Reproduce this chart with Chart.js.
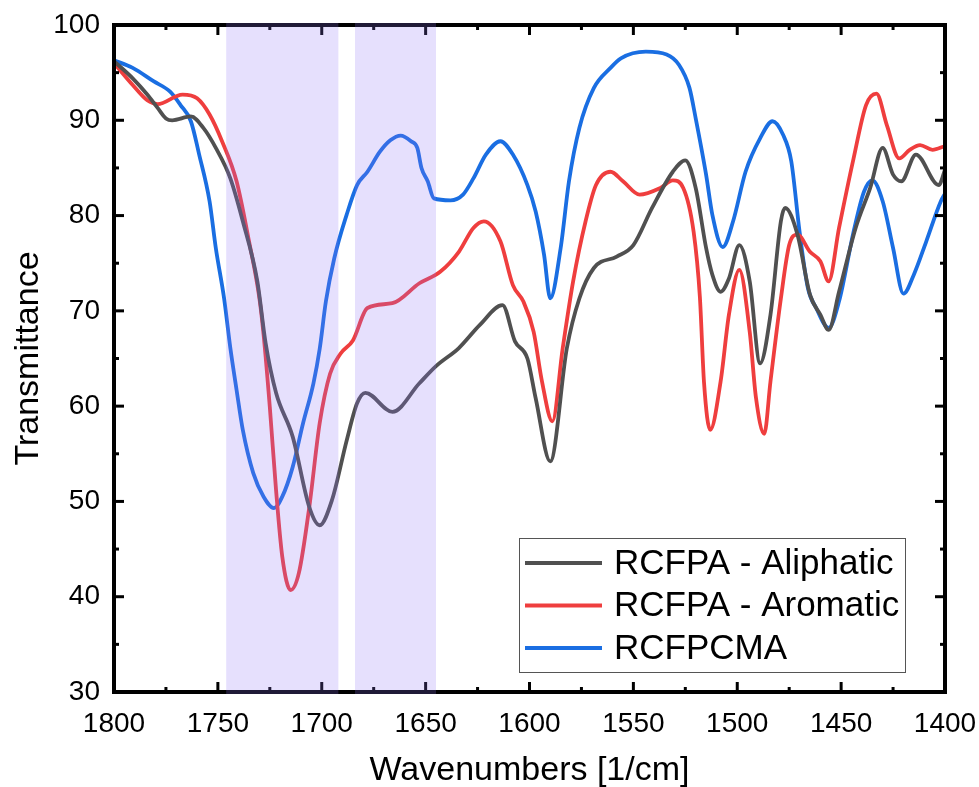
<!DOCTYPE html>
<html lang="en">
<head>
<meta charset="UTF-8">
<title>Transmittance</title>
<script src="https://cdn.jsdelivr.net/npm/chart.js"></script>
<style>
  html, body { margin: 0; padding: 0; background: #fff; }
</style>
</head>
<body>
<canvas id="chartCanvas" width="979" height="787"></canvas>
<script>
// wavenumbers (1/cm) and transmittance (%) per sample
const aliphaticWn = [1800,1791,1784,1779,1775,1772,1763,1757,1751,1744,1738,1731,1727,1722,1714,1706,1701,1695,1688,1683,1679,1666,1653,1645,1634,1624,1613,1607,1601,1597,1590,1582,1576,1569,1558,1550,1541,1531,1525,1520,1515,1512,1508,1504,1499,1494,1489,1484,1479,1477,1471,1465,1460,1456,1451,1443,1436,1430,1425,1421,1414,1403,1400];
const aliphaticT  = [96.2,94.4,92.7,91.3,90.2,90.0,90.4,89.2,87.1,83.9,79.4,73.1,66.6,61.4,56.8,49.4,47.5,50.2,56.4,60.3,61.4,59.4,62.4,64.2,66.1,68.5,70.6,66.8,65.0,60.8,54.2,66.1,71.3,74.5,75.7,76.9,80.8,84.6,85.8,82.9,76.6,73.8,72.0,73.4,76.9,73.1,64.5,69.6,79.4,80.8,78.0,71.7,69.6,68.0,72.0,78.7,82.9,87.1,84.3,83.6,86.4,83.2,84.8];

const aromaticWn = [1800,1791,1784,1779,1767,1760,1754,1748,1741,1735,1730,1728,1725,1722,1719,1715,1711,1706,1701,1696,1691,1685,1678,1666,1653,1643,1634,1627,1622,1614,1608,1603,1598,1594,1589,1584,1579,1573,1568,1561,1555,1547,1537,1531,1526,1521,1518,1516,1513,1508,1504,1499,1494,1491,1487,1484,1479,1475,1471,1465,1460,1456,1451,1444,1438,1433,1428,1422,1417,1412,1406,1400];
const aromaticT  = [96.0,93.7,92.1,91.7,92.7,92.3,90.6,87.8,83.6,77.3,71.3,67.5,59.9,51.2,44.2,40.7,42.5,49.4,58.2,63.4,65.5,66.9,70.3,70.8,72.9,74.1,76.2,78.7,79.4,77.3,72.7,71.0,67.8,62.6,58.4,66.1,73.1,79.4,83.2,84.6,83.6,82.2,82.9,83.7,82.9,78.3,71.5,62.5,57.5,62.6,69.6,74.3,67.8,60.9,57.1,62.6,71.3,76.9,78.0,76.2,75.2,73.1,78.7,86.0,91.6,92.8,89.5,86.0,86.9,87.4,86.9,87.3];

const cmaWn = [1800,1791,1781,1773,1768,1763,1759,1754,1751,1747,1744,1741,1738,1733,1728,1723,1719,1714,1709,1704,1701,1698,1694,1688,1683,1678,1672,1667,1662,1657,1654,1652,1649,1646,1638,1632,1627,1621,1614,1608,1601,1597,1593,1590,1585,1581,1576,1569,1561,1556,1544,1534,1528,1523,1520,1515,1512,1507,1502,1496,1489,1483,1478,1474,1470,1466,1462,1456,1451,1444,1439,1435,1430,1425,1420,1415,1409,1402,1400];
const cmaT  = [96.3,95.5,94.1,93.0,91.6,89.9,86.4,81.5,76.6,71.3,66.1,61.7,57.5,53.0,50.5,49.3,50.5,53.6,58.2,62.4,66.0,71.0,75.5,80.1,83.2,84.6,86.7,87.9,88.4,87.8,87.1,85.0,83.6,81.8,81.6,82.2,83.9,86.4,87.8,86.4,83.2,80.4,75.9,71.3,76.6,83.6,89.2,93.4,95.5,96.5,97.2,96.9,95.8,93.4,90.2,84.3,80.1,76.7,79.4,84.6,88.1,89.9,88.5,85.7,78.3,72.4,70.3,68.2,71.0,78.3,82.5,83.7,81.5,76.6,71.8,73.8,77.3,81.5,82.3];

const seriesNames = ['RCFPA - Aliphatic', 'RCFPA - Aromatic', 'RCFPCMA'];
const seriesColors = ['#505050', '#ef3e3e', '#1a6ee2'];

// highlighted carbonyl regions (1/cm)
const shadedRanges = [[1746, 1692], [1684, 1645]];

const fontFamily = "'Liberation Sans', Arial, sans-serif";

function toPoints(wn, t) {
    return wn.map((w, i) => ({ x: w, y: t[i] }));
}

// frame with inward ticks, shaded bands on top, boxed legend
const framePlugin = {
    id: 'framePlugin',
    afterDraw(chart) {
        const { ctx, chartArea: a, scales: { x, y } } = chart;
        ctx.save();
        ctx.strokeStyle = '#000';
        ctx.lineCap = 'butt';

        const seg = (x1, y1, x2, y2) => {
            ctx.beginPath();
            ctx.moveTo(x1, y1);
            ctx.lineTo(x2, y2);
            ctx.stroke();
        };

        ctx.lineWidth = 3;
        for (let w = 1400; w <= 1800; w += 25) {
            const px = x.getPixelForValue(w);
            const len = w % 50 === 0 ? 10 : 5;
            seg(px, a.bottom, px, a.bottom - len);
            seg(px, a.top, px, a.top + len);
        }
        for (let t = 30; t <= 100; t += 5) {
            const py = y.getPixelForValue(t);
            const len = t % 10 === 0 ? 10 : 5;
            seg(a.left, py, a.left + len, py);
            seg(a.right, py, a.right - len, py);
        }

        ctx.lineWidth = 4;
        ctx.strokeRect(a.left, a.top, a.right - a.left, a.bottom - a.top);

        ctx.fillStyle = 'rgba(144, 117, 246, 0.225)';
        shadedRanges.forEach(([from, to]) => {
            const x1 = x.getPixelForValue(from);
            const x2 = x.getPixelForValue(to);
            ctx.fillRect(Math.min(x1, x2), a.top - 2, Math.abs(x2 - x1), a.bottom - a.top + 4);
        });

        // legend
        const boxLeft = a.right - 426, boxTop = a.bottom - 154;
        ctx.lineWidth = 1;
        ctx.strokeStyle = '#555';
        ctx.strokeRect(boxLeft + 0.5, boxTop + 0.5, 386, 134);
        ctx.font = '35px ' + fontFamily;
        ctx.textBaseline = 'middle';
        ctx.fillStyle = '#000';
        chart.data.datasets.forEach((ds, i) => {
            const rowY = boxTop + 25 + i * 42.5;
            ctx.strokeStyle = ds.borderColor;
            ctx.lineWidth = 4;
            seg(boxLeft + 6, rowY, boxLeft + 83, rowY);
            ctx.fillText(ds.label, boxLeft + 95, rowY + 1);
        });
        ctx.restore();
    }
};

const ctx = document.getElementById('chartCanvas').getContext('2d');
new Chart(ctx, {
    type: 'line',
    data: {
        datasets: [
            { label: seriesNames[0], data: toPoints(aliphaticWn, aliphaticT), borderColor: seriesColors[0] },
            { label: seriesNames[1], data: toPoints(aromaticWn, aromaticT), borderColor: seriesColors[1] },
            { label: seriesNames[2], data: toPoints(cmaWn, cmaT), borderColor: seriesColors[2] }
        ]
    },
    options: {
        responsive: false,
        animation: false,
        devicePixelRatio: 1,
        layout: { padding: { top: 25, right: 34, left: 0, bottom: 0 } },
        elements: {
            line: { borderWidth: 3.8, cubicInterpolationMode: 'monotone', fill: false },
            point: { radius: 0 }
        },
        scales: {
            x: {
                type: 'linear',
                reverse: true,
                min: 1400,
                max: 1800,
                grid: { display: false, drawTicks: false },
                border: { display: false },
                ticks: {
                    stepSize: 50,
                    autoSkip: false,
                    maxRotation: 0,
                    padding: 15,
                    color: '#000',
                    font: { family: fontFamily, size: 28 },
                    callback: (v) => String(v)
                },
                title: {
                    display: true,
                    text: 'Wavenumbers [1/cm]',
                    color: '#000',
                    font: { family: fontFamily, size: 34 },
                    padding: { top: 0, bottom: -4 }
                },
                afterFit(scale) {
                    scale.height = 95;
                    scale.paddingLeft = 0;
                    scale.paddingRight = 0;
                }
            },
            y: {
                min: 30,
                max: 100,
                grid: { display: false, drawTicks: false },
                border: { display: false },
                ticks: {
                    stepSize: 10,
                    padding: 14,
                    color: '#000',
                    font: { family: fontFamily, size: 28 },
                    callback: (v) => String(v)
                },
                title: {
                    display: true,
                    text: 'Transmittance',
                    color: '#000',
                    font: { family: fontFamily, size: 34 },
                    padding: { top: 8, bottom: 0 }
                },
                afterFit(scale) {
                    scale.width = 114;
                    scale.paddingTop = 0;
                    scale.paddingBottom = 0;
                }
            }
        },
        plugins: {
            legend: { display: false },
            tooltip: { enabled: false }
        }
    },
    plugins: [framePlugin]
});
</script>
</body>
</html>
